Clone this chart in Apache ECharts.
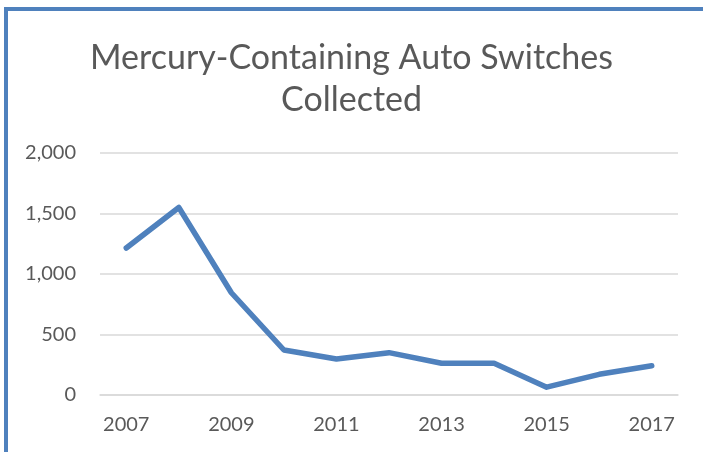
<!DOCTYPE html>
<html>
<head>
<meta charset="utf-8">
<script src="https://cdn.jsdelivr.net/npm/echarts@6/dist/echarts.min.js"></script>
<style>
  html, body { margin: 0; padding: 0; background: #fff; }
  #main { width: 703px; height: 452px; }
</style>
</head>
<body>
<div id="main"></div>
<script>
// 数据
var years = ['2007', '2008', '2009', '2010', '2011', '2012', '2013', '2014', '2015', '2016', '2017'];
var switches = [1215, 1550, 845, 372, 297, 350, 262, 262, 65, 171, 242];
var yTicks = [0, 500, 1000, 1500, 2000];

var chart = echarts.init(document.getElementById('main'));

function fmt(v) {
  return String(v).replace(/\B(?=(\d{3})+(?!\d))/g, ',');
}

var option = {
  backgroundColor: '#fff',
  textStyle: { fontFamily: 'Lato' },
  title: {
    text: 'Mercury-Containing Auto Switches\nCollected',
    left: 'center',
    top: 32,
    textStyle: {
      fontFamily: 'Lato',
      fontWeight: 'normal',
      fontSize: 34,
      lineHeight: 42,
      color: '#595959'
    }
  },
  // 左边和上边的蓝色边框
  graphic: [
    { type: 'rect', shape: { x: 4, y: 7, width: 699, height: 4 }, style: { fill: '#4f81bd' } },
    { type: 'rect', shape: { x: 4, y: 7, width: 4, height: 445 }, style: { fill: '#4f81bd' } }
  ],
  grid: { left: 100, right: 25, top: 153, bottom: 57 },
  xAxis: {
    type: 'category',
    data: years,
    boundaryGap: true,
    axisLine: { show: true, lineStyle: { color: '#d9d9d9', width: 1.5 } },
    axisTick: { show: false },
    axisLabel: {
      interval: 1,
      margin: 20,
      fontSize: 20,
      color: '#595959',
      fontFamily: 'Lato'
    }
  },
  yAxis: {
    type: 'value',
    min: yTicks[0],
    max: yTicks[yTicks.length - 1],
    interval: 500,
    axisLine: { show: false },
    axisTick: { show: false },
    axisLabel: {
      margin: 24,
      fontSize: 20,
      color: '#595959',
      fontFamily: 'Lato',
      formatter: function (v) { return fmt(v); }
    },
    splitLine: { lineStyle: { color: '#d9d9d9', width: 1.5 } }
  },
  series: [{
    name: 'Switches',
    type: 'line',
    data: switches,
    symbol: 'none',
    lineStyle: { color: '#4f81bd', width: 5.5, cap: 'round', join: 'round' },
    itemStyle: { color: '#4f81bd' }
  }]
};

chart.setOption(option);
</script>
</body>
</html>
